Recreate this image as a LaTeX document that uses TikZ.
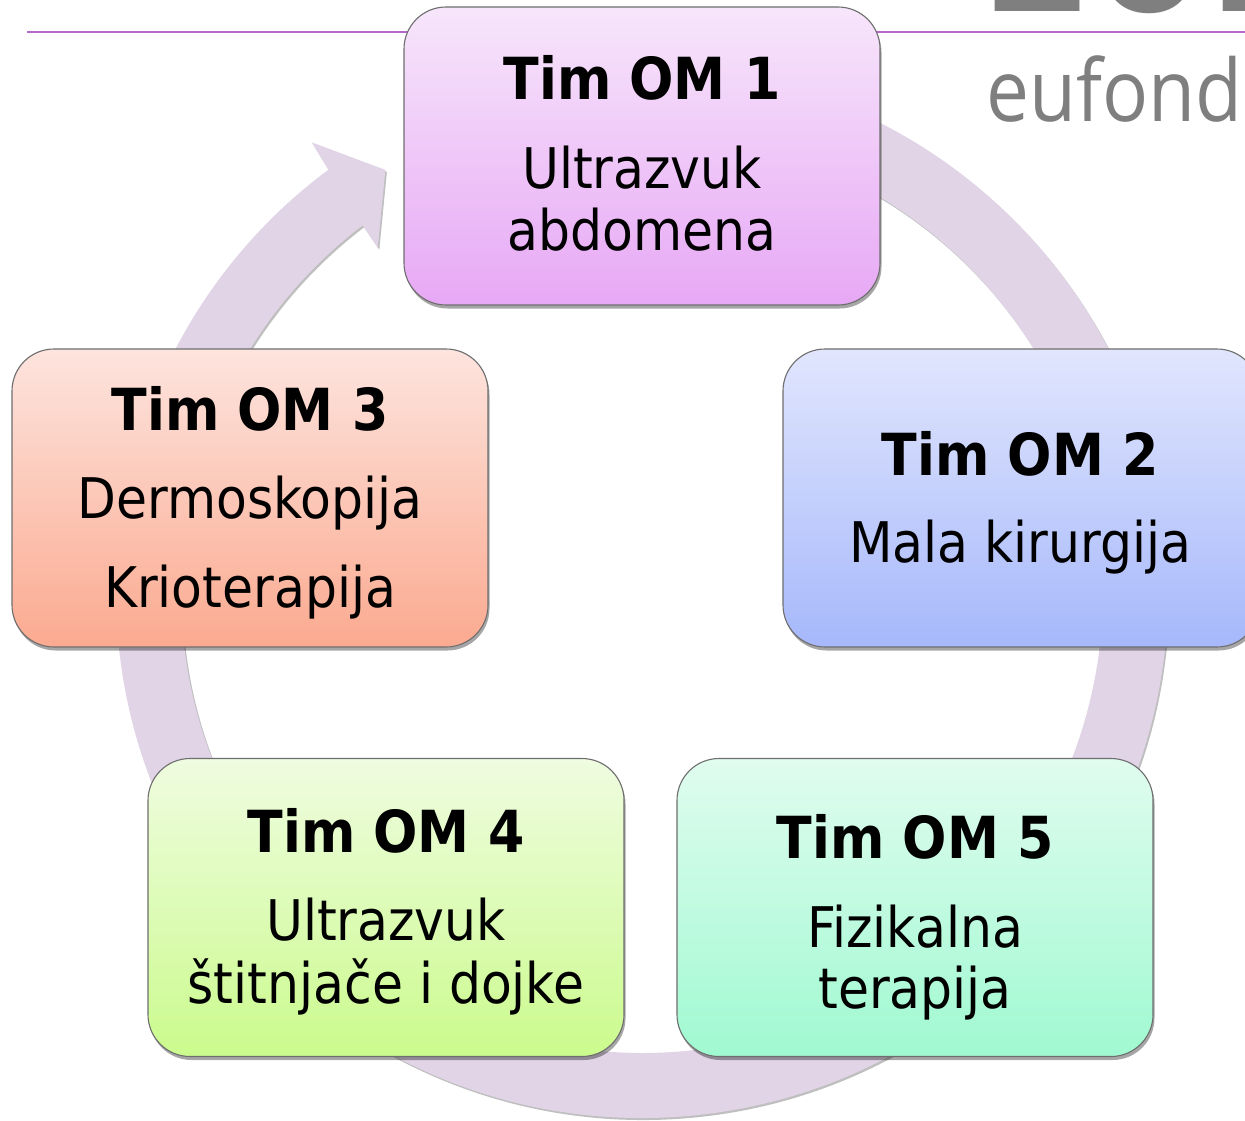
\documentclass[tikz,border=0pt]{standalone}
\usepackage{fontspec}
\setmainfont{DejaVu Sans}[FakeStretch=0.9]
\newfontfamily\logofont{Open Sans}[FakeStretch=0.89]
\newfontfamily\bigfont{DejaVu Sans}
\usetikzlibrary{shadows}
\definecolor{ringc}{RGB}{224,212,230}
\definecolor{linec}{RGB}{180,104,200}
\definecolor{logogray}{RGB}{127,127,127}
\definecolor{bordc}{RGB}{110,110,110}
\definecolor{aTop}{RGB}{247,230,251}\definecolor{aBot}{RGB}{231,168,245}
\definecolor{bTop}{RGB}{225,230,253}\definecolor{bBot}{RGB}{166,184,251}
\definecolor{cTop}{RGB}{253,228,222}\definecolor{cBot}{RGB}{251,170,144}
\definecolor{dTop}{RGB}{239,252,224}\definecolor{dBot}{RGB}{203,251,141}
\definecolor{eTop}{RGB}{224,252,239}\definecolor{eBot}{RGB}{160,249,209}
\tikzset{
  tbox/.style={rounded corners=42pt, minimum width=476pt, minimum height=298pt,
    draw=bordc, line width=1.1pt, inner sep=0pt,
    drop shadow={shadow xshift=1.5pt, shadow yshift=-3.5pt, opacity=0.35, fill=black}},
  ttl/.style={anchor=base, inner sep=0pt, font=\fontsize{58}{60}\selectfont\bfseries},
  txt/.style={anchor=base, inner sep=0pt, font=\fontsize{56}{60}\selectfont},
}
\begin{document}
\begin{tikzpicture}[x=1pt,y=1pt]
\useasboundingbox (0,0) rectangle (1245,-1121);
\clip (0,0) rectangle (1245,-1121);
\fill[white] (0,0) rectangle (1245,-1121);
% header
\node[anchor=base west, inner sep=0pt, text=logogray, font=\bigfont\fontsize{160}{160}\selectfont\bfseries] (big) at (982,-12) {201};
\coordinate (l1) at (27,-32);
\coordinate (l2) at (1245,-32);
\draw[linec, line width=2pt] (l1) -- (l2);
\node[anchor=base west, inner sep=0pt, text=logogray, font=\logofont\fontsize{86}{86}\selectfont] (logo) at (986,-122) {eufond};
% ring arrow
\begin{scope}[shift={(642,-592)}]
\fill[ringc, drop shadow={shadow xshift=1.5pt, shadow yshift=-2pt, opacity=0.25, fill=black}]
  (95:526) arc[start angle=95, end angle=-233.4, radius=526]
  -- (-233.7:558) -- (-238.7:494) -- (-232.5:434) -- (-232.7:461)
  arc[start angle=-232.7, end angle=95, radius=461] -- cycle;
\end{scope}
% boxes
\node[tbox, top color=aTop, bottom color=aBot] (b1) at (642,-156) {};
\node[tbox, top color=bTop, bottom color=bBot] (b2) at (1021,-498) {};
\node[tbox, top color=cTop, bottom color=cBot] (b3) at (250,-498) {};
\node[tbox, top color=dTop, bottom color=dBot] (b4) at (386,-907.5) {};
\node[tbox, top color=eTop, bottom color=eBot] (b5) at (915,-907.5) {};
% texts
\node[ttl] (t1a) at (642,-100) {Tim OM 1};
\node[txt] (t1b) at (642,-188) {Ultrazvuk};
\node[txt] (t1c) at (642,-250) {abdomena};
\node[ttl] (t2a) at (1020,-475) {Tim OM 2};
\node[txt] (t2b) at (1020,-562) {Mala kirurgija};
\node[ttl] (t3a) at (250,-430) {Tim OM 3};
\node[txt] (t3b) at (250,-518) {Dermoskopija};
\node[txt] (t3c) at (250,-607) {Krioterapija};
\node[ttl] (t4a) at (386,-852) {Tim OM 4};
\node[txt] (t4b) at (386,-940) {Ultrazvuk};
\node[txt] (t4c) at (386,-1003) {štitnjače i dojke};
\node[ttl] (t5a) at (915,-858) {Tim OM 5};
\node[txt] (t5b) at (915,-947) {Fizikalna};
\node[txt] (t5c) at (915,-1008) {terapija};
\end{tikzpicture}
\end{document}
